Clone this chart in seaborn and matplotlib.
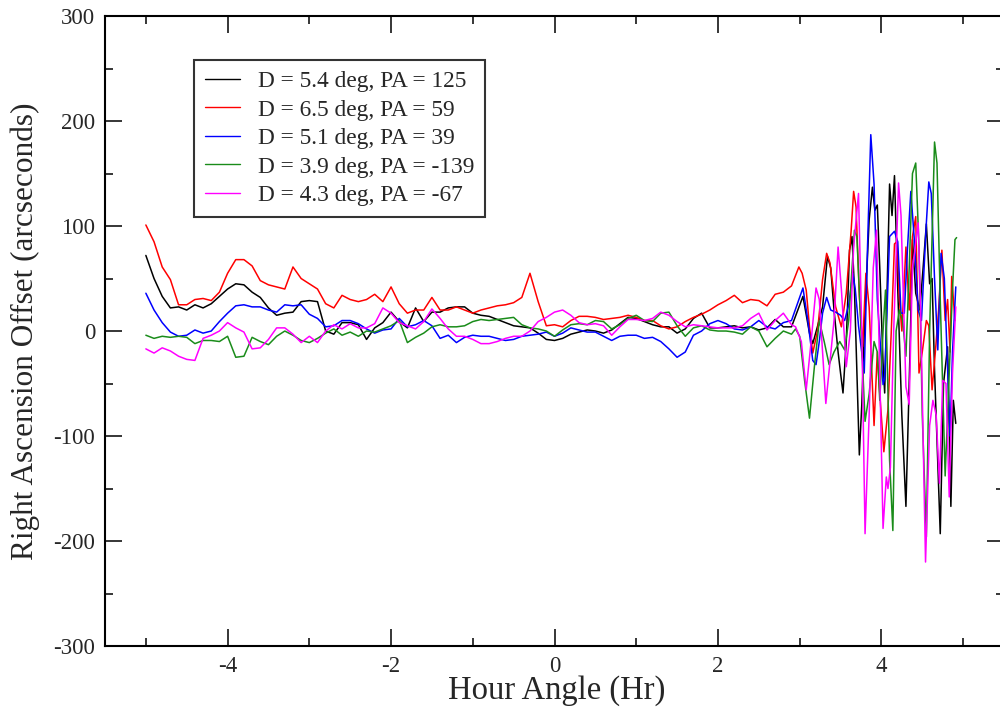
import numpy as np
import pandas as pd
import seaborn as sns
import matplotlib
matplotlib.use('Agg')
import matplotlib.pyplot as plt
from matplotlib.ticker import MultipleLocator

# hour angle samples for the quiet part of the night (-5.0 .. 2.9 hr)
ha_left = np.round(np.arange(-5.0, 2.95, 0.1), 1)

labels = ['D = 5.4 deg, PA = 125', 'D = 6.5 deg, PA = 59', 'D = 5.1 deg, PA = 39',
          'D = 3.9 deg, PA = -139', 'D = 4.3 deg, PA = -67']
colors = ['black', '#ff0000', '#0000ff', '#1a8c1a', '#ff00ff']

# --- D = 5.4, PA = 125 (black)
black_left = [72, 50, 33, 22, 23, 20, 25, 22, 26, 33,
              40, 45, 44, 37, 32, 22, 15, 17, 18, 28,
              29, 28, 0, -3, 8, 8, 6, -8, 3, 8,
              18, 9, 3, 22, 9, 18, 18, 22, 23, 23,
              17, 15, 14, 11, 8, 5, 4, 3, -2, -8,
              -9, -7, -3, -1, 1, 0, -2, 1, 7, 13,
              12, 9, 6, 4, 4, -2, 2, 12, 17, 3,
              3, 4, 5, 3, 4, 1, 3, 11, 4, 4]
black_ha = [3.04, 3.12, 3.16, 3.22, 3.28, 3.34, 3.38, 3.42, 3.47, 3.50,
            3.53, 3.57, 3.61, 3.64, 3.67, 3.70, 3.73, 3.76, 3.80, 3.85,
            3.89, 3.92, 3.95, 3.98, 4.02, 4.04, 4.07, 4.10, 4.13, 4.16,
            4.20, 4.25, 4.30, 4.35, 4.38, 4.42, 4.47, 4.51, 4.55, 4.59,
            4.62, 4.65, 4.72, 4.76, 4.81, 4.85, 4.88, 4.91]
black_right = [33, -2, -12, 5, 23, 71, 60, 20, -20, -40,
               -59, -10, 77, 90, 40, -40, -118, -70, 20, 106,
               137, 115, 120, 60, -30, -59, 40, 140, 110, 148,
               40, -80, -167, -20, 87, 36, 20, 60, 102, 45,
               50, -37, -193, -50, -15, -167, -66, -88]

# --- D = 6.5, PA = 59 (red)
red_left = [101, 85, 61, 49, 25, 25, 30, 31, 29, 37,
            55, 68, 68, 62, 48, 44, 42, 40, 61, 50,
            45, 40, 26, 22, 34, 30, 28, 30, 35, 28,
            42, 26, 17, 20, 20, 32, 20, 20, 23, 20,
            17, 20, 22, 24, 25, 27, 32, 55, 28, 5,
            6, 4, 10, 14, 14, 13, 11, 12, 13, 15,
            13, 10, 10, 5, 2, 4, 9, 13, 16, 20,
            25, 29, 34, 27, 30, 29, 24, 35, 37, 43]
red_ha = [2.99, 3.03, 3.08, 3.12, 3.16, 3.22, 3.28, 3.33, 3.37, 3.44,
          3.51, 3.57, 3.63, 3.66, 3.69, 3.73, 3.77, 3.81, 3.85, 3.91,
          3.95, 3.98, 4.03, 4.08, 4.12, 4.16, 4.19, 4.22, 4.25, 4.30,
          4.34, 4.38, 4.42, 4.46, 4.50, 4.55, 4.58, 4.62, 4.66, 4.70,
          4.74, 4.78, 4.81, 4.84, 4.86, 4.90]
red_right = [61, 55, 39, 4, -21, 1, 49, 74, 65, 23,
             4, 36, 96, 133, 118, 33, -15, 55, 23, -90,
             -20, -60, -115, -75, -2, 83, 85, 30, 0, 80,
             20, 90, 109, -40, -20, 10, 5, -56, -20, 20,
             77, 10, 30, -20, 52, 10]

# --- D = 5.1, PA = 39 (blue)
blue_left = [36, 20, 8, -1, -5, -4, 1, -2, 0, 9,
             17, 24, 25, 23, 23, 20, 18, 25, 24, 25,
             16, 12, 4, 5, 10, 10, 7, 2, -2, 1,
             2, 12, 4, 6, 10, 5, -7, -4, -11, -6,
             -4, -5, -5, -7, -9, -8, -5, -4, -3, -1,
             -5, -2, 3, 1, -1, -1, -5, -9, -5, -4,
             -4, -7, -6, -10, -17, -25, -20, -4, 0, 7,
             10, 7, 2, 1, 4, 10, 4, 2, 8, 10]
blue_ha = [3.04, 3.10, 3.16, 3.20, 3.24, 3.28, 3.33, 3.38, 3.44, 3.50,
           3.55, 3.60, 3.65, 3.68, 3.72, 3.79, 3.83, 3.87, 3.91, 3.95,
           4.02, 4.04, 4.10, 4.16, 4.20, 4.24, 4.28, 4.32, 4.36, 4.40,
           4.45, 4.49, 4.55, 4.58, 4.61, 4.65, 4.69, 4.73, 4.77, 4.84,
           4.87, 4.91]
blue_right = [41, 10, -28, -32, -10, 17, 32, 20, 18, 15,
              10, 25, 55, 40, 5, -40, 80, 187, 140, 30,
              -51, -45, 90, 95, 85, 17, 17, 80, 133, 90,
              20, 10, 103, 142, 131, 50, -18, 74, 50, -100,
              -20, 42]

# --- D = 3.9, PA = -139 (green)
green_left = [-4, -7, -5, -6, -5, -6, -12, -9, -9, -10,
              -5, -25, -24, -6, -10, -13, -5, 0, -4, -9,
              -11, -7, -2, 2, -4, -1, -5, 0, -1, 2,
              5, 10, -11, -6, -2, 4, 6, 4, 4, 5,
              9, 11, 10, 11, 12, 13, 6, 3, 2, 0,
              -5, 1, 6, 7, 6, 10, 9, 2, 6, 12,
              15, 10, 9, 17, 18, 5, -5, 3, 5, 1,
              0, 0, -1, -3, 4, 0, -15, -7, 0, -3]
green_ha = [2.95, 3.00, 3.06, 3.12, 3.18, 3.24, 3.30, 3.36, 3.42, 3.49,
            3.55, 3.60, 3.67, 3.70, 3.74, 3.80, 3.85, 3.91, 3.95, 3.98,
            4.02, 4.05, 4.10, 4.14, 4.18, 4.22, 4.26, 4.30, 4.34, 4.38,
            4.42, 4.46, 4.50, 4.55, 4.59, 4.65, 4.68, 4.72, 4.78, 4.82,
            4.87, 4.90, 4.92]
green_right = [2, -5, -47, -83, -34, 10, -10, -32, -20, -10,
               -18, 10, 96, 90, 20, -86, -60, -10, -20, -66,
               0, 39, -123, -190, 0, 20, 10, -24, 60, 150,
               160, 80, -80, -196, 0, 180, 160, 30, -138, -60,
               40, 87, 89]

# --- D = 4.3, PA = -67 (magenta)
magenta_left = [-17, -21, -16, -19, -24, -27, -28, -7, -4, 0,
                8, 3, -1, -17, -16, -8, 3, 3, -3, -11,
                -5, -11, 0, 6, 2, 7, 3, 3, 7, 22,
                17, 8, 5, 2, 9, 21, 12, 2, -5, -5,
                -8, -12, -12, -10, -7, -5, -5, 0, 9, 13,
                18, 20, 15, 8, 6, 7, 5, -4, 4, 11,
                11, 10, 12, 18, 15, 9, 4, 6, 5, 4,
                3, 3, 3, 5, 12, 17, 1, 10, 17, 6]
magenta_ha = [2.95, 3.02, 3.08, 3.14, 3.20, 3.24, 3.28, 3.32, 3.37, 3.42,
              3.47, 3.51, 3.57, 3.62, 3.66, 3.72, 3.76, 3.80, 3.85, 3.90,
              3.94, 3.98, 4.02, 4.06, 4.08, 4.11, 4.15, 4.21, 4.24, 4.30,
              4.34, 4.38, 4.45, 4.48, 4.54, 4.59, 4.63, 4.67, 4.71, 4.75,
              4.79, 4.83, 4.87, 4.91]
magenta_right = [4, -10, -56, -10, 41, 30, -20, -69, -30, 10,
                 80, 40, -34, 0, 80, 131, 0, -193, -80, 60,
                 96, -40, -188, -139, -150, -130, 0, 141, 110, -53,
                 -70, 60, 103, 20, -220, -90, -66, -80, -145, -47,
                 -50, -158, -40, 23]

series = [(black_left, black_ha, black_right),
          (red_left, red_ha, red_right),
          (blue_left, blue_ha, blue_right),
          (green_left, green_ha, green_right),
          (magenta_left, magenta_ha, magenta_right)]

frames = []
for lab, (left, ha_r, right) in zip(labels, series):
    frames.append(pd.DataFrame({'ha': np.concatenate([ha_left, ha_r]),
                                'offset': np.concatenate([left, right]),
                                'label': lab}))
df = pd.concat(frames, ignore_index=True)

sns.set_theme(style='ticks')
plt.rcParams['font.family'] = ['Liberation Serif', 'DejaVu Serif']
plt.rcParams['axes.unicode_minus'] = False

fig = plt.figure(figsize=(10, 7.19), dpi=100)
ax = fig.add_axes([0.105, 0.1015, 0.899, 0.8762])

sns.lineplot(data=df, x='ha', y='offset', hue='label', hue_order=labels,
             palette=colors, sort=False, estimator=None, linewidth=1.1,
             legend=False, ax=ax)

ax.set_xlim(-5.5, 5.5)
ax.set_ylim(-300, 300)
ax.xaxis.set_major_locator(MultipleLocator(2))
ax.xaxis.set_minor_locator(MultipleLocator(1))
ax.yaxis.set_major_locator(MultipleLocator(100))
ax.yaxis.set_minor_locator(MultipleLocator(50))
ax.tick_params(which='both', direction='in', top=True, right=True,
               width=1.1, color='black', labelsize=16.5, pad=7)
ax.tick_params(which='major', length=12)
ax.tick_params(which='minor', length=6)
for sp in ax.spines.values():
    sp.set_linewidth(1.5)
    sp.set_color('black')

ax.set_xlabel('Hour Angle (Hr)', fontsize=23.5)
ax.set_ylabel('Right Ascension Offset (arcseconds)', fontsize=22.5)
ax.xaxis.set_label_coords(0.502, -0.047)
ax.yaxis.set_label_coords(-0.072, 0.5)

leg = ax.legend(ax.lines[:5], labels, loc='upper left',
                bbox_to_anchor=(0.099, 0.930), borderaxespad=0,
                fontsize=16.8, frameon=True, fancybox=False, shadow=False,
                handlelength=1.5, handletextpad=0.8, labelspacing=0.31,
                borderpad=0.45)
leg.get_frame().set_edgecolor('black')
leg.get_frame().set_linewidth(1.5)
for h in leg.get_lines():
    h.set_linewidth(1.0)

fig.savefig('out.png', dpi=100)
